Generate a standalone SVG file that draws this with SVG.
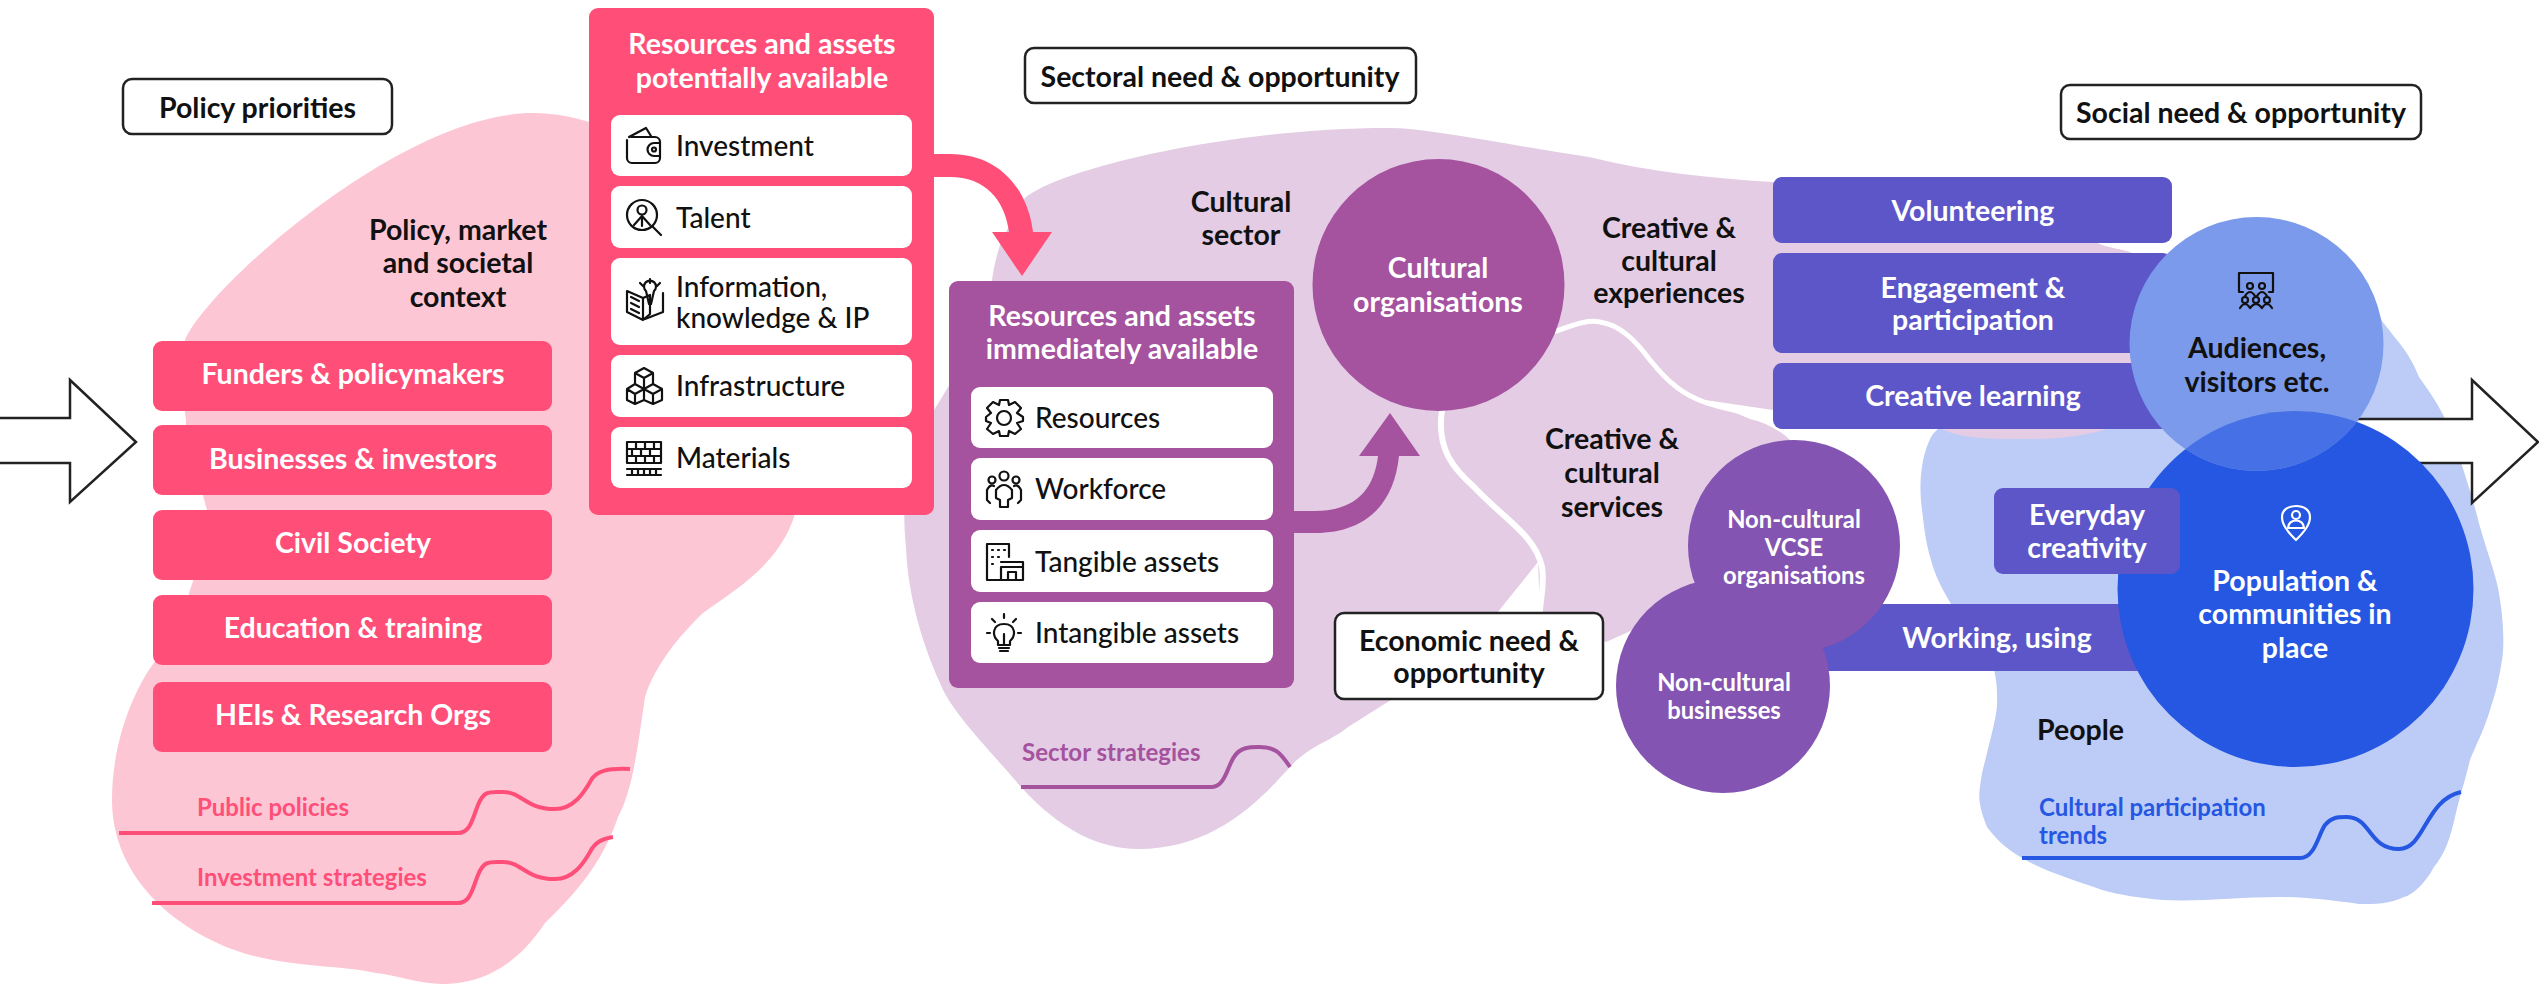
<svg xmlns="http://www.w3.org/2000/svg" width="2539" height="984" viewBox="0 0 2539 984">
<style>
text{font-family:"Lato","Noto Sans",sans-serif;font-size:28.500px;font-weight:700;fill:#111;text-anchor:middle}
.w{fill:#fff}
.rw{font-size:28px;font-weight:500;text-anchor:start;fill:#111}
.sm{font-size:23.800px}
.lb{font-size:24px;text-anchor:start}
.box{fill:#fff;stroke:#222;stroke-width:2.5}
.row{fill:#fff}
.ic{fill:none;stroke:#111;stroke-width:2.2;stroke-linejoin:round;stroke-linecap:round}
.icw{fill:none;stroke:#fff;stroke-width:2.2;stroke-linejoin:round;stroke-linecap:round}
.pk{fill:#FF4F79}.pu{fill:#A5529F}.in{fill:#5C56C8}.vi{fill:#8354B1}
.wave{fill:none;stroke-width:4}
.arr{fill:#fff;stroke:#222;stroke-width:2.5}
</style>
<defs>
<clipPath id="popclip"><circle cx="2295.5" cy="589" r="178"/></clipPath>
</defs>
<g id="blobs">
<path id="blob-pink" fill="#FDC6D5" d="M533 113C610 113 700 170 760 250C810 320 815 440 794 517C778 565 735 590 703 613C680 635 655 665 645 697C636 760 632 790 618 817C605 855 585 885 545 923C530 945 500 984 442 984C420 984 395 975 376 973C340 965 300 968 250 955C180 935 112 880 112 800C112 740 135 690 151 667C170 640 185 610 190 590C200 560 212 530 207 510C200 480 185 450 186 420C180 380 180 360 185 340C205 290 400 113 533 113Z"/>
<path id="blob-blue" fill="#BCCCF6" d="M1922 510C1918 480 1922 455 1931 437C1945 415 1990 405 2050 400C2120 385 2220 330 2300 290L2379 317C2400 345 2408 350 2419 377C2432 395 2442 410 2450 430C2462 465 2472 495 2480 527C2488 555 2498 580 2500 600C2504 625 2504 650 2502 660C2498 685 2495 695 2490 710C2484 730 2476 745 2470 760C2464 785 2460 795 2455 817C2450 840 2444 855 2434 867C2424 885 2412 895 2404 897C2390 904 2375 904 2359 904C2330 900 2305 897 2278 897C2240 897 2200 902 2163 900C2140 898 2120 895 2102 890C2075 880 2045 872 2022 858C2005 848 1995 838 1987 827C1980 810 1978 798 1980 787C1982 770 1985 762 1987 753C1994 725 1998 710 1997 697C1997 685 1996 678 1994 670C1985 645 1965 625 1951 604C1940 585 1935 575 1931 560C1925 540 1924 525 1922 510Z"/>
<path id="blob-purple" fill="#E3CCE4" d="M1388 128C1405 128 1420 130 1434 132C1490 140 1540 150 1589 157C1650 172 1710 178 1772 182C1880 195 2030 210 2102 245C2120 250 2125 250 2132 253C2170 275 2185 340 2160 395C2130 430 2080 439 2032 439C1995 439 1965 440 1941 429C1900 400 1830 410 1773 410L1705 400L1750 419C1775 425 1795 440 1800 455L1800 560L1700 600L1606 642C1580 630 1555 625 1540 612L1538 562L1497 613C1460 650 1420 675 1394 698L1348 727C1330 742 1310 745 1290 767C1260 800 1215 849 1138 849C1100 849 1060 830 1021 787C985 745 950 710 940 683C925 650 908 600 906 547C900 490 910 440 934 410C960 370 985 320 992 280C995 260 1000 240 1009 227C1012 215 1018 205 1026 197C1070 165 1240 128 1388 128Z"/>
</g>
<g id="connectors">
<path id="flow-in" class="arr" d="M0 418L70 418L70 380L136 442L70 502L70 463L0 463"/>
<path id="flow-out" class="arr" d="M2356 419L2472 419L2472 380L2538 442L2472 503L2472 463L2400 463"/>
<path id="arrow-potential" class="pk" d="M930 154L950 154C1000 154 1028 190 1033 232L1052 232L1022 276L992 232L1009 232C1005 200 985 177 950 177L930 177Z"/>
<path id="arrow-immediate" class="pu" d="M1290 511L1315 511C1355 511 1374 490 1378 456L1359 456L1390 413L1420 456L1399 456C1394 505 1365 533 1315 533L1290 533Z"/>
<path id="divider-services" fill="none" stroke="#fff" stroke-width="6" d="M1442 410C1436 450 1455 470 1474 487C1505 520 1535 535 1542 567C1545 585 1540 600 1540 612"/>
<path id="divider-experiences" fill="none" stroke="#fff" stroke-width="5" d="M1554 332C1580 322 1590 320 1600 322C1620 325 1635 340 1650 360C1670 385 1685 395 1704 402C1725 410 1750 412 1773 420"/>
<path id="line-public" class="wave" stroke="#FF4F79" d="M119 833L458 833C470 833 472 820 478 805C484 790 490 792 503 792C522 792 525 809 555 809C575 809 585 790 590 782C595 770 610 768 630 769"/>
<path id="line-investment" class="wave" stroke="#FF4F79" d="M152 903L458 903C470 903 472 890 478 875C484 860 490 862 503 862C522 862 525 879 555 879C575 879 585 860 590 852C595 842 602 839 613 837"/>
<path id="line-sector" class="wave" stroke="#A5529F" d="M1021 787L1212 787C1225 787 1228 765 1234 757C1240 747 1250 747 1259 747C1275 747 1280 752 1290 767"/>
<path id="line-participation" class="wave" stroke="#2557E2" d="M2022 858L2300 858C2315 858 2318 835 2325 825C2332 817 2338 817 2346 817C2372 817 2368 849 2399 849C2425 849 2425 800 2461 792"/>
</g>
<g id="policy-priorities"><rect class="box" x="123" y="79" width="269" height="55" rx="9"/><text x="257.500" y="118">Policy priorities</text></g>
<g id="context-label"><text x="458" y="240">Policy, market</text><text x="458" y="273">and societal</text><text x="458" y="307">context</text></g>
<g id="funders"><rect class="pk" x="153" y="341" width="399" height="70" rx="9"/><text class="w" x="353" y="384">Funders &amp; policymakers</text></g>
<g id="businesses"><rect class="pk" x="153" y="425" width="399" height="70" rx="9"/><text class="w" x="353" y="469">Businesses &amp; investors</text></g>
<g id="civil"><rect class="pk" x="153" y="510" width="399" height="70" rx="9"/><text class="w" x="353" y="553">Civil Society</text></g>
<g id="education"><rect class="pk" x="153" y="595" width="399" height="70" rx="9"/><text class="w" x="353" y="638">Education &amp; training</text></g>
<g id="heis"><rect class="pk" x="153" y="682" width="399" height="70" rx="9"/><text class="w" x="353" y="725">HEIs &amp; Research Orgs</text></g>
<g id="public-policies"><text class="lb" style="fill:#FF4F79" x="197" y="816">Public policies</text></g>
<g id="investment-strategies"><text class="lb" style="fill:#FF4F79" x="197" y="886">Investment strategies</text></g>
<g id="potential-panel">
<rect class="pk" x="589" y="8" width="345" height="507" rx="9"/>
<text class="w" x="762" y="54">Resources and assets</text><text class="w" x="762" y="88">potentially available</text>
<rect class="row" x="611" y="115" width="301" height="61" rx="9"/><rect class="row" x="611" y="186" width="301" height="62" rx="9"/><rect class="row" x="611" y="258" width="301" height="87" rx="9"/><rect class="row" x="611" y="355" width="301" height="62" rx="9"/><rect class="row" x="611" y="427" width="301" height="61" rx="9"/>
<text class="rw" x="676" y="156">Investment</text><text class="rw" x="676" y="228">Talent</text><text class="rw" x="676" y="297">Information,</text><text class="rw" x="676" y="328">knowledge &amp; IP</text><text class="rw" x="676" y="396">Infrastructure</text><text class="rw" x="676" y="468">Materials</text>
<g class="ic"><path d="M629 137L646 128L651 136M631 137H655a5 5 0 0 1 5 5V158a5 5 0 0 1-5 5H632a5 5 0 0 1-5-5V140M660 143H654a4 4 0 0 0 0 13H660"/><circle cx="654" cy="149.500" r="2"/></g>
<g class="ic"><circle cx="642" cy="215" r="15"/><circle cx="642" cy="210" r="4.500"/><path d="M634 225L642 216L650 225M642 216V226M652 226L661 235"/></g>
<g class="ic"><path d="M627 291L643 298V320L627 312ZM643 298L650 295V314L643 320M631 297L639 301M631 303L639 307M631 309L639 313"/><path d="M654 291a6 6 0 1 0 -8 0L649 304H651ZM650 279V283M660 283L657 286M640 283L643 286M663 293V312L645 319"/></g>
<g class="ic"><path d="M644 368L653 373V384L644 389L635 384V373ZM635 373L644 378L653 373M644 378V389M635 384L644 389V400L635 404L627 400V389ZM627 389L635 394L644 389M635 394V404M653 384L662 389V400L653 404L644 400V389L653 394L662 389M653 394V404"/></g>
<g class="ic"><path d="M627 442H661V463H627ZM627 449H661M627 456H661M636 442V449M645 442V449M654 442V449M632 449V456M641 449V456M650 449V456M636 456V463M645 456V463M654 456V463M627 469H661M627 475H661M632 469V475M638 469V475M644 469V475M650 469V475M656 469V475"/></g>
</g>
<g id="immediate-panel">
<rect class="pu" x="949" y="281" width="345" height="407" rx="9"/>
<text class="w" x="1122" y="326">Resources and assets</text><text class="w" x="1122" y="359">immediately available</text>
<rect class="row" x="971" y="387" width="302" height="61" rx="9"/><rect class="row" x="971" y="458" width="302" height="62" rx="9"/><rect class="row" x="971" y="530" width="302" height="62" rx="9"/><rect class="row" x="971" y="602" width="302" height="61" rx="9"/>
<text class="rw" x="1035" y="428">Resources</text><text class="rw" x="1035" y="499">Workforce</text><text class="rw" x="1035" y="572">Tangible assets</text><text class="rw" x="1035" y="643">Intangible assets</text>
<g class="ic"><circle cx="1004" cy="418" r="7"/><path d="M1000 400H1008L1009 405L1015 402L1021 408L1017 413L1023 417V421L1017 423L1021 429L1015 434L1009 431L1008 436H1000L999 431L993 434L987 429L991 423L986 421V417L991 413L987 408L993 402L999 405Z"/></g>
<g class="ic"><circle cx="1004" cy="476" r="4.500"/><circle cx="992" cy="480" r="3.500"/><circle cx="1016" cy="480" r="3.500"/><path d="M996 490Q1004 480 1012 490V498L1008 500V507H1000V500L996 498ZM987 500V490Q990 484 994 486M1021 500V490Q1018 484 1014 486M987 500L990 503M1021 500L1018 503"/></g>
<g class="ic"><path d="M987 580V544H1009V557M992 550h1M998 550h1M1004 550h1M992 557h1M998 557h1M992 564h1M987 580H1023V567H1001V580M1001 562H1023V567M1008 580V572H1016V580"/></g>
<g class="ic"><path d="M998 641C992 636 992 624 1004 624C1016 624 1016 636 1010 641V645H998ZM999 648H1009M1000 651H1008M1004 645V634M1004 614V618M987 633H990M1018 633H1021M992 619L995 622M1016 619L1013 622"/></g>
</g>
<g id="sector-strategies"><text class="lb" style="fill:#A5529F" x="1022" y="761">Sector strategies</text></g>
<g id="sectoral-need"><rect class="box" x="1025" y="48" width="391" height="55" rx="9"/><text x="1220" y="87">Sectoral need &amp; opportunity</text></g>
<g id="cultural-sector"><text x="1241" y="212">Cultural</text><text x="1241" y="245">sector</text></g>
<g id="cultural-organisations"><circle class="pu" cx="1438.500" cy="285" r="126"/><text class="w" x="1438" y="278">Cultural</text><text class="w" x="1438" y="312">organisations</text></g>
<g id="creative-experiences"><text x="1669" y="238">Creative &amp;</text><text x="1669" y="271">cultural</text><text x="1669" y="303">experiences</text></g>
<g id="creative-services"><text x="1612" y="449">Creative &amp;</text><text x="1612" y="483">cultural</text><text x="1612" y="517">services</text></g>
<g id="working"><rect class="in" x="1790" y="604" width="410" height="67"/><text class="w" x="1997" y="648">Working, using</text></g>
<g id="vcse"><circle class="vi" cx="1794" cy="546" r="106"/></g>
<g id="non-cultural-businesses"><circle class="vi" cx="1723" cy="686" r="107"/><text class="w sm" x="1724" y="691">Non-cultural</text><text class="w sm" x="1724" y="719">businesses</text></g>
<g id="vcse-label"><text class="w sm" x="1794" y="528">Non-cultural</text><text class="w sm" x="1794" y="556">VCSE</text><text class="w sm" x="1794" y="584">organisations</text></g>
<g id="economic-need"><rect class="box" x="1335" y="613" width="268" height="86" rx="9"/><text x="1469" y="651">Economic need &amp;</text><text x="1469" y="683">opportunity</text></g>
<g id="volunteering"><rect class="in" x="1773" y="177" width="399" height="66" rx="9"/><text class="w" x="1973" y="221">Volunteering</text></g>
<g id="engagement"><rect class="in" x="1773" y="253" width="399" height="100" rx="9"/><text class="w" x="1973" y="298">Engagement &amp;</text><text class="w" x="1973" y="330">participation</text></g>
<g id="creative-learning"><rect class="in" x="1773" y="363" width="399" height="66" rx="9"/><text class="w" x="1973" y="406">Creative learning</text></g>
<g id="population"><circle cx="2295.500" cy="589" r="178" fill="#2557E2"/>
<g class="icw"><path d="M2296 540C2288 532 2282 525 2282 517C2282 510 2288 506 2296 506C2304 506 2310 510 2310 517C2310 525 2304 532 2296 540Z"/><circle cx="2296" cy="515" r="4"/><path d="M2288 528C2288 518 2304 518 2304 528Z"/></g>
<text class="w" x="2295" y="591">Population &amp;</text><text class="w" x="2295" y="624">communities in</text><text class="w" x="2295" y="658">place</text></g>
<g id="audiences"><circle cx="2256.500" cy="344" r="127" fill="#7B9AEC"/>
<circle cx="2256.500" cy="344" r="127" fill="#4670E5" clip-path="url(#popclip)"/>
<g class="ic"><path d="M2243 292H2239V273H2273V292H2269"/><circle cx="2250" cy="286" r="3"/><circle cx="2262" cy="286" r="3"/><path d="M2245 296Q2250 288 2255 296M2257 296Q2262 288 2267 296"/><circle cx="2245" cy="300" r="3"/><circle cx="2256" cy="300" r="3"/><circle cx="2267" cy="300" r="3"/><path d="M2240 308Q2245 300 2250 308Q2256 300 2262 308Q2267 300 2272 308"/></g>
<text x="2257" y="358">Audiences,</text><text x="2257" y="392">visitors etc.</text></g>
<g id="everyday"><rect class="in" x="1994" y="488" width="186" height="86" rx="9"/><text class="w" x="2087" y="525">Everyday</text><text class="w" x="2087" y="558">creativity</text></g>
<g id="social-need"><rect class="box" x="2061" y="85" width="360" height="54" rx="9"/><text x="2241" y="123">Social need &amp; opportunity</text></g>
<g id="people"><text style="text-anchor:start" x="2037" y="740">People</text></g>
<g id="participation-trends"><text class="lb" style="fill:#2557E2" x="2039" y="816">Cultural participation</text><text class="lb" style="fill:#2557E2" x="2039" y="844">trends</text></g>
</svg>
